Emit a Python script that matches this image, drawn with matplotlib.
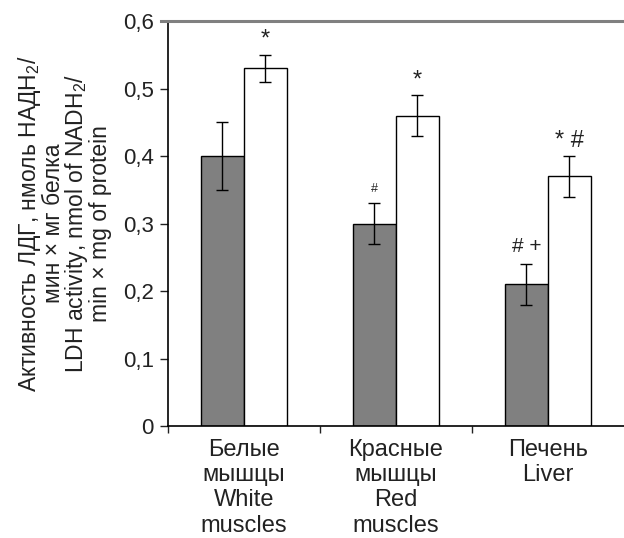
import numpy as np
import matplotlib.pyplot as plt
from matplotlib.lines import Line2D

plt.rcParams['font.family'] = ['Liberation Sans', 'DejaVu Sans']
plt.rcParams['mathtext.fontset'] = 'custom'
plt.rcParams['mathtext.rm'] = 'Liberation Sans'
plt.rcParams['text.color'] = '#222222'
plt.rcParams['xtick.color'] = '#222222'
plt.rcParams['ytick.color'] = '#222222'
plt.rcParams['axes.labelcolor'] = '#222222'

# Data
categories = ['Белые\nмышцы\nWhite\nmuscles', 'Красные\nмышцы\nRed\nmuscles', 'Печень\nLiver']
dark_vals = [0.40, 0.30, 0.21]
dark_err = [0.05, 0.03, 0.03]
white_vals = [0.53, 0.46, 0.37]
white_err = [0.02, 0.03, 0.03]
dark_marks = ['', '#', '# +']
white_marks = ['*', '*', '* #']

x = np.arange(len(categories))
w = 0.283

fig = plt.figure(figsize=(6.24, 5.38), dpi=100)
ax = fig.add_axes([0.269, 0.208, 0.731, 0.753])

ax.bar(x - w / 2, dark_vals, w, color='#808080', edgecolor='black', linewidth=1.0,
       yerr=dark_err, error_kw=dict(ecolor='black', elinewidth=1.0, capsize=4, capthick=1.0))
ax.bar(x + w / 2, white_vals, w, color='white', edgecolor='black', linewidth=1.0,
       yerr=white_err, error_kw=dict(ecolor='black', elinewidth=1.0, capsize=4, capthick=1.0))

# significance marks
for i in range(len(x)):
    if dark_marks[i] == '#':
        ax.text(x[i] - w / 2, dark_vals[i] + dark_err[i] + 0.012, '#', ha='center',
                va='bottom', fontsize=9)
    elif dark_marks[i]:
        ax.text(x[i] - w / 2, dark_vals[i] + dark_err[i] + 0.012, dark_marks[i],
                ha='center', va='bottom', fontsize=15)
    ax.text(x[i] + w / 2, white_vals[i] + white_err[i] + 0.006, white_marks[i],
            ha='center', va='bottom', fontsize=17)

ax.set_xlim(-0.5, 2.5)
ax.set_ylim(0, 0.6)
ax.set_yticks([0, 0.1, 0.2, 0.3, 0.4, 0.5, 0.6])
ax.set_yticklabels(['0', '0,1', '0,2', '0,3', '0,4', '0,5', '0,6'], fontsize=16)
ax.set_xticks(x)
ax.set_xticklabels(categories, fontsize=17, linespacing=1.2)
ax.tick_params(axis='x', length=0, pad=9)
ax.set_xticks([-0.5, 0.5, 1.5], minor=True)
ax.tick_params(axis='x', which='minor', length=5, width=1.0)
ax.tick_params(axis='y', length=6, width=1.0, direction='out', pad=4)

ax.spines['right'].set_visible(False)
ax.spines['top'].set_visible(False)
ax.spines['left'].set_linewidth(1.2)
ax.spines['bottom'].set_linewidth(1.2)

# gray frame line at top of the plot area
fig.add_artist(Line2D([161 / 624, 1.0], [1 - 20.5 / 538, 1 - 20.5 / 538],
                      color='#808080', linewidth=2.2))

ax.set_ylabel('Активность ЛДГ, нмоль НАДН$_2$/\nмин × мг белка\n'
              'LDH activity, nmol of NADH$_2$/\nmin × mg of protein',
              fontsize=16.5, linespacing=0.92, labelpad=8)

plt.savefig('out.png', dpi=100)
